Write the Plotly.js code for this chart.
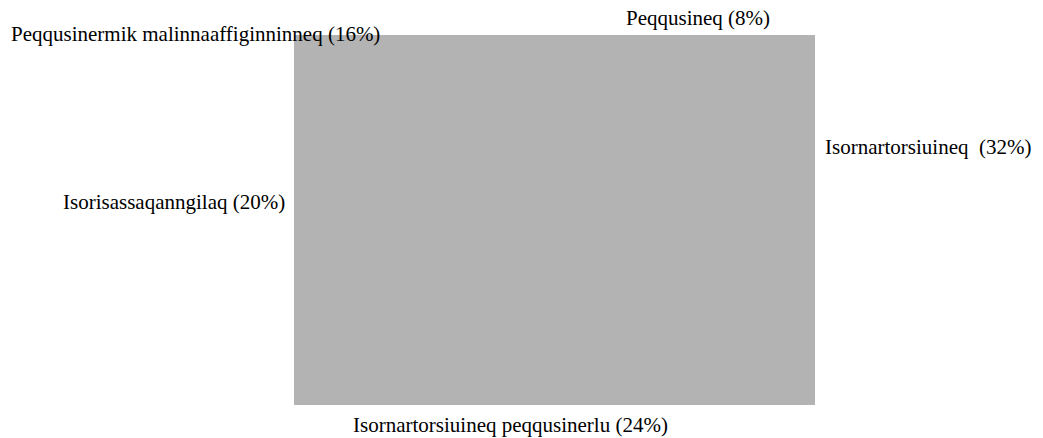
<!DOCTYPE html>
<html>
<head>
<meta charset="utf-8">
<script src="https://cdn.plot.ly/plotly-3.0.1.min.js"></script>
<style>html,body{margin:0;padding:0;background:#fff;}#chart{width:1043px;height:438px;}</style>
</head>
<body>
<div id="chart"></div>
<script>
// Data
var categories = ["Isornartorsiuineq\u00a0", "Isornartorsiuineq peqqusinerlu", "Isorisassaqanngilaq", "Peqqusinermik malinnaaffiginninneq", "Peqqusineq"];
var values = [32, 24, 20, 16, 8];

// Label placement (layout only, paper coordinates)
var labelX = [1.217, 0.4165, -0.231, -0.190, 0.775];
var labelY = [0.697, -0.054, 0.549, 1.003, 1.045];

var FONT = "'Liberation Serif', 'Times New Roman', Times, serif";

var annotations = categories.map(function (c, i) {
  return {
    text: c + " (" + values[i] + "%)",
    xref: "paper", yref: "paper",
    x: labelX[i], y: labelY[i],
    xanchor: "center", yanchor: "middle",
    showarrow: false,
    font: {family: FONT, size: 21, color: "#000"}
  };
});

var layout = {
  width: 1043, height: 438,
  margin: {l: 294, r: 228, t: 35, b: 33, pad: 0},
  font: {family: FONT},
  paper_bgcolor: "#ffffff",
  plot_bgcolor: "#b3b3b3",
  showlegend: false,
  xaxis: {visible: false, range: [0, 1], fixedrange: true},
  yaxis: {visible: false, range: [0, 1], fixedrange: true},
  annotations: annotations
};

Plotly.newPlot("chart", [{type: "scatter", x: [], y: [], hoverinfo: "skip"}], layout, {displayModeBar: false, staticPlot: true});
</script>
</body>
</html>
